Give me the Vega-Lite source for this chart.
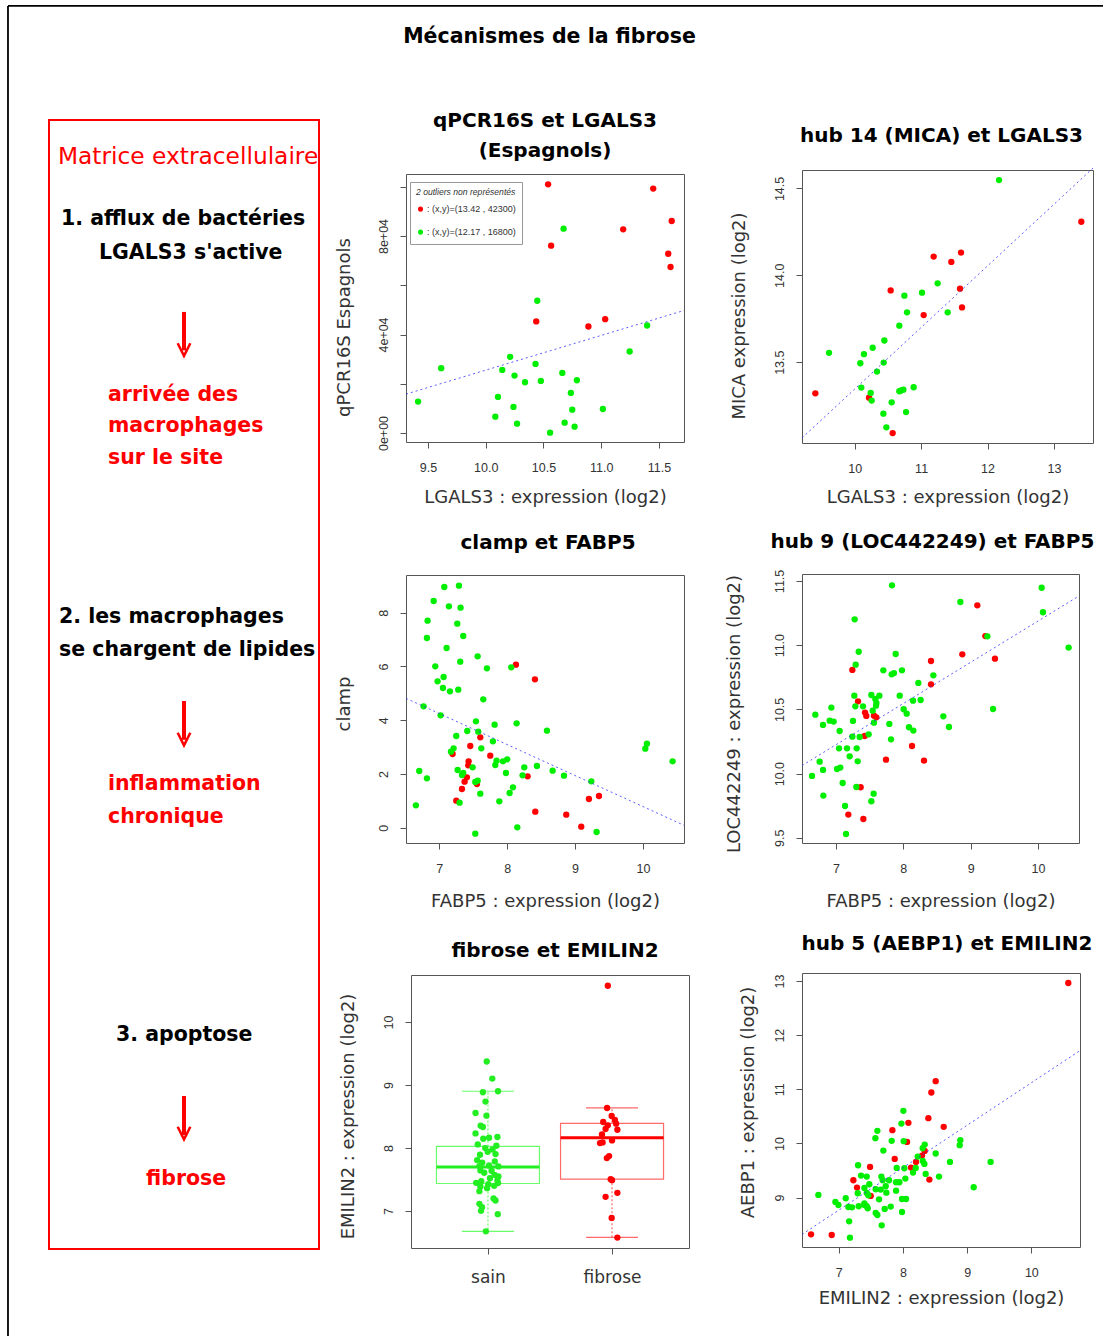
{
"$schema": "https://vega.github.io/schema/vega-lite/v6.json",
"background": "white",
"padding": {"left": 6, "top": 4, "right": 0, "bottom": 0},
"autosize": {"type": "pad"},
"title": {"text": "Mécanismes de la fibrose", "offset": -43, "dx": -6, "fontSize": 20.5},
"bounds": "flush",
"spacing": 0,
"resolve": {"scale": {"color": "independent", "stroke": "independent", "fill": "independent"}, "legend": {"color": "independent"}},
"datasets": {
"cadre": [{"x": -15.19, "y": -10.1, "x2": -15.19, "y2": 107.71}, {"x": -15.19, "y": -10.1, "x2": 390.37, "y2": -10.1}],
"fleches": [{"x": 50, "y": 17.0, "y2": 20.4}, {"x": 50, "y": 51.46, "y2": 54.9}, {"x": 50, "y": 86.45, "y2": 89.9}],
"pointes": [{"x": 50, "y": 20.33}, {"x": 50, "y": 54.83}, {"x": 50, "y": 89.73}],
"texte": [
{"t": "Matrice extracellulaire", "x": 3.33, "y": 3.92, "k": "titre"},
{"t": "1. afflux de bactéries", "x": 4.44, "y": 9.33, "k": "etape"},
{"t": "LGALS3 s'active", "x": 18.5, "y": 12.29, "k": "etape"},
{"t": "arrivée des", "x": 21.85, "y": 24.89, "k": "effet"},
{"t": "macrophages", "x": 21.85, "y": 27.64, "k": "effet"},
{"t": "sur le site", "x": 21.85, "y": 30.5, "k": "effet"},
{"t": "2. les macrophages", "x": 3.7, "y": 44.55, "k": "etape"},
{"t": "se chargent de lipides", "x": 3.7, "y": 47.48, "k": "etape"},
{"t": "inflammation", "x": 21.85, "y": 59.34, "k": "effet"},
{"t": "chronique", "x": 21.85, "y": 62.27, "k": "effet"},
{"t": "3. apoptose", "x": 24.81, "y": 81.58, "k": "etape"},
{"t": "fibrose", "x": 35.93, "y": 94.33, "k": "effet"}
],
"p1": [
{"x":10.54,"y":101000,"g":"fibrose"},{"x":11.45,"y":99250,"g":"fibrose"},{"x":11.61,"y":86100,"g":"fibrose"},{"x":11.19,"y":82700,"g":"fibrose"},{"x":10.566,"y":76070,"g":"fibrose"},{"x":11.58,"y":72800,"g":"fibrose"},{"x":11.6,"y":67400,"g":"fibrose"},{"x":10.437,"y":45300,"g":"fibrose"},{"x":11.034,"y":46240,"g":"fibrose"},{"x":10.889,"y":43250,"g":"fibrose"},
{"x":10.674,"y":82980,"g":"sain"},{"x":10.446,"y":53700,"g":"sain"},{"x":11.397,"y":43660,"g":"sain"},{"x":11.246,"y":33090,"g":"sain"},{"x":10.211,"y":30920,"g":"sain"},{"x":10.431,"y":28070,"g":"sain"},{"x":9.614,"y":26310,"g":"sain"},{"x":10.143,"y":25630,"g":"sain"},{"x":10.663,"y":24410,"g":"sain"},{"x":10.249,"y":23320,"g":"sain"},{"x":10.34,"y":20610,"g":"sain"},{"x":10.477,"y":21150,"g":"sain"},{"x":10.789,"y":21420,"g":"sain"},{"x":10.737,"y":16270,"g":"sain"},{"x":9.414,"y":12750,"g":"sain"},{"x":10.106,"y":14640,"g":"sain"},{"x":10.24,"y":10580,"g":"sain"},{"x":10.749,"y":9490,"g":"sain"},{"x":11.014,"y":9760,"g":"sain"},{"x":10.083,"y":6640,"g":"sain"},{"x":10.271,"y":3800,"g":"sain"},{"x":10.683,"y":4200,"g":"sain"},{"x":10.769,"y":2580,"g":"sain"},{"x":10.557,"y":140,"g":"sain"}
],
"p1d": [{"x": 9.31, "y": 15800}, {"x": 11.716, "y": 49730}],
"p2": [
{"x":13.412,"y":14.308,"g":"fibrose"},{"x":11.189,"y":14.108,"g":"fibrose"},{"x":11.601,"y":14.131,"g":"fibrose"},{"x":11.455,"y":14.077,"g":"fibrose"},{"x":11.586,"y":13.923,"g":"fibrose"},{"x":10.542,"y":13.913,"g":"fibrose"},{"x":11.616,"y":13.815,"g":"fibrose"},{"x":11.039,"y":13.771,"g":"fibrose"},{"x":9.408,"y":13.321,"g":"fibrose"},{"x":10.216,"y":13.296,"g":"fibrose"},{"x":10.572,"y":13.092,"g":"fibrose"},
{"x":12.173,"y":14.548,"g":"sain"},{"x":11.249,"y":13.954,"g":"sain"},{"x":11.014,"y":13.9,"g":"sain"},{"x":10.748,"y":13.883,"g":"sain"},{"x":10.788,"y":13.787,"g":"sain"},{"x":11.4,"y":13.787,"g":"sain"},{"x":10.672,"y":13.71,"g":"sain"},{"x":10.447,"y":13.625,"g":"sain"},{"x":9.614,"y":13.554,"g":"sain"},{"x":10.271,"y":13.583,"g":"sain"},{"x":10.14,"y":13.546,"g":"sain"},{"x":10.085,"y":13.494,"g":"sain"},{"x":10.437,"y":13.498,"g":"sain"},{"x":10.336,"y":13.446,"g":"sain"},{"x":10.1,"y":13.354,"g":"sain"},{"x":10.241,"y":13.323,"g":"sain"},{"x":10.256,"y":13.279,"g":"sain"},{"x":10.672,"y":13.333,"g":"sain"},{"x":10.733,"y":13.342,"g":"sain"},{"x":10.888,"y":13.356,"g":"sain"},{"x":10.557,"y":13.269,"g":"sain"},{"x":10.432,"y":13.204,"g":"sain"},{"x":10.773,"y":13.213,"g":"sain"},{"x":10.477,"y":13.125,"g":"sain"},{"x":10.7,"y":13.337,"g":"sain"}
],
"p2d": [{"x": 9.207, "y": 13.064}, {"x": 13.588, "y": 14.617}],
"p3": [
{"x":8.129,"y":6.067,"g":"fibrose"},{"x":8.409,"y":5.521,"g":"fibrose"},{"x":7.604,"y":3.362,"g":"fibrose"},{"x":7.457,"y":3.04,"g":"fibrose"},{"x":7.751,"y":2.68,"g":"fibrose"},{"x":7.196,"y":2.742,"g":"fibrose"},{"x":7.432,"y":2.469,"g":"fibrose"},{"x":7.427,"y":2.32,"g":"fibrose"},{"x":7.407,"y":1.873,"g":"fibrose"},{"x":7.373,"y":1.712,"g":"fibrose"},{"x":7.334,"y":1.439,"g":"fibrose"},{"x":7.555,"y":1.625,"g":"fibrose"},{"x":7.25,"y":1.005,"g":"fibrose"},{"x":8.301,"y":1.911,"g":"fibrose"},{"x":8.414,"y":0.596,"g":"fibrose"},{"x":8.87,"y":0.484,"g":"fibrose"},{"x":9.091,"y":0.037,"g":"fibrose"},{"x":9.204,"y":1.067,"g":"fibrose"},{"x":9.352,"y":1.179,"g":"fibrose"},
{"x":7.074,"y":8.958,"g":"sain"},{"x":7.29,"y":9.007,"g":"sain"},{"x":6.917,"y":8.437,"g":"sain"},{"x":7.142,"y":8.238,"g":"sain"},{"x":7.314,"y":8.189,"g":"sain"},{"x":6.828,"y":7.705,"g":"sain"},{"x":7.265,"y":7.593,"g":"sain"},{"x":6.818,"y":7.06,"g":"sain"},{"x":7.353,"y":7.134,"g":"sain"},{"x":7.108,"y":6.687,"g":"sain"},{"x":7.565,"y":6.377,"g":"sain"},{"x":7.309,"y":6.179,"g":"sain"},{"x":6.941,"y":6.005,"g":"sain"},{"x":7.702,"y":5.931,"g":"sain"},{"x":8.06,"y":5.968,"g":"sain"},{"x":7.064,"y":5.608,"g":"sain"},{"x":6.975,"y":5.447,"g":"sain"},{"x":7.054,"y":5.199,"g":"sain"},{"x":7.157,"y":5.074,"g":"sain"},{"x":7.28,"y":5.136,"g":"sain"},{"x":7.648,"y":4.777,"g":"sain"},{"x":6.769,"y":4.516,"g":"sain"},{"x":7.02,"y":4.181,"g":"sain"},{"x":7.54,"y":3.958,"g":"sain"},{"x":7.815,"y":3.834,"g":"sain"},{"x":8.139,"y":3.883,"g":"sain"},{"x":7.412,"y":3.598,"g":"sain"},{"x":7.574,"y":3.573,"g":"sain"},{"x":8.586,"y":3.61,"g":"sain"},{"x":7.25,"y":3.412,"g":"sain"},{"x":7.79,"y":3.213,"g":"sain"},{"x":7.619,"y":2.953,"g":"sain"},{"x":7.211,"y":2.953,"g":"sain"},{"x":7.172,"y":2.829,"g":"sain"},{"x":10.034,"y":2.94,"g":"sain"},{"x":10.058,"y":3.127,"g":"sain"},{"x":10.436,"y":2.469,"g":"sain"},{"x":7.844,"y":2.494,"g":"sain"},{"x":7.825,"y":2.333,"g":"sain"},{"x":8.001,"y":2.543,"g":"sain"},{"x":7.938,"y":2.469,"g":"sain"},{"x":8.252,"y":2.246,"g":"sain"},{"x":8.438,"y":2.295,"g":"sain"},{"x":7.491,"y":2.246,"g":"sain"},{"x":7.27,"y":2.146,"g":"sain"},{"x":7.353,"y":2.035,"g":"sain"},{"x":7.334,"y":1.96,"g":"sain"},{"x":7.982,"y":2.035,"g":"sain"},{"x":8.669,"y":2.122,"g":"sain"},{"x":6.705,"y":2.109,"g":"sain"},{"x":8.227,"y":1.948,"g":"sain"},{"x":8.836,"y":1.935,"g":"sain"},{"x":9.239,"y":1.725,"g":"sain"},{"x":6.818,"y":1.836,"g":"sain"},{"x":7.53,"y":1.7,"g":"sain"},{"x":7.565,"y":1.749,"g":"sain"},{"x":8.085,"y":1.501,"g":"sain"},{"x":8.036,"y":1.29,"g":"sain"},{"x":7.604,"y":1.266,"g":"sain"},{"x":7.884,"y":0.98,"g":"sain"},{"x":7.299,"y":0.93,"g":"sain"},{"x":6.656,"y":0.831,"g":"sain"},{"x":8.149,"y":0.012,"g":"sain"},{"x":7.53,"y":-0.223,"g":"sain"},{"x":9.317,"y":-0.161,"g":"sain"}
],
"p3d": [{"x": 6.51, "y": 4.813}, {"x": 10.604, "y": 0.088}],
"p4": [
{"x":9.099,"y":11.31,"g":"fibrose"},{"x":9.218,"y":11.071,"g":"fibrose"},{"x":8.876,"y":10.929,"g":"fibrose"},{"x":9.361,"y":10.895,"g":"fibrose"},{"x":8.411,"y":10.877,"g":"fibrose"},{"x":8.411,"y":10.695,"g":"fibrose"},{"x":7.243,"y":10.807,"g":"fibrose"},{"x":7.327,"y":10.563,"g":"fibrose"},{"x":7.431,"y":10.475,"g":"fibrose"},{"x":7.45,"y":10.449,"g":"fibrose"},{"x":7.564,"y":10.451,"g":"fibrose"},{"x":7.599,"y":10.438,"g":"fibrose"},{"x":7.426,"y":10.293,"g":"fibrose"},{"x":8.129,"y":10.215,"g":"fibrose"},{"x":7.743,"y":10.109,"g":"fibrose"},{"x":8.307,"y":10.101,"g":"fibrose"},{"x":7.366,"y":9.894,"g":"fibrose"},{"x":7.183,"y":9.681,"g":"fibrose"},{"x":7.406,"y":9.647,"g":"fibrose"},
{"x":7.832,"y":11.466,"g":"sain"},{"x":10.054,"y":11.447,"g":"sain"},{"x":8.847,"y":11.336,"g":"sain"},{"x":10.074,"y":11.256,"g":"sain"},{"x":7.277,"y":11.201,"g":"sain"},{"x":9.248,"y":11.069,"g":"sain"},{"x":10.455,"y":10.981,"g":"sain"},{"x":7.337,"y":10.949,"g":"sain"},{"x":7.886,"y":10.931,"g":"sain"},{"x":7.292,"y":10.848,"g":"sain"},{"x":7.703,"y":10.804,"g":"sain"},{"x":7.98,"y":10.804,"g":"sain"},{"x":7.827,"y":10.773,"g":"sain"},{"x":7.861,"y":10.783,"g":"sain"},{"x":8.446,"y":10.765,"g":"sain"},{"x":8.223,"y":10.706,"g":"sain"},{"x":7.272,"y":10.607,"g":"sain"},{"x":7.525,"y":10.612,"g":"sain"},{"x":7.644,"y":10.607,"g":"sain"},{"x":7.946,"y":10.607,"g":"sain"},{"x":7.584,"y":10.581,"g":"sain"},{"x":8.144,"y":10.568,"g":"sain"},{"x":8.257,"y":10.573,"g":"sain"},{"x":7.287,"y":10.524,"g":"sain"},{"x":7.401,"y":10.524,"g":"sain"},{"x":7.594,"y":10.529,"g":"sain"},{"x":6.931,"y":10.514,"g":"sain"},{"x":8.005,"y":10.501,"g":"sain"},{"x":7.545,"y":10.49,"g":"sain"},{"x":8.05,"y":10.467,"g":"sain"},{"x":6.693,"y":10.459,"g":"sain"},{"x":8.594,"y":10.446,"g":"sain"},{"x":6.906,"y":10.412,"g":"sain"},{"x":6.965,"y":10.405,"g":"sain"},{"x":7.252,"y":10.41,"g":"sain"},{"x":7.564,"y":10.397,"g":"sain"},{"x":7.792,"y":10.387,"g":"sain"},{"x":6.807,"y":10.379,"g":"sain"},{"x":8.678,"y":10.363,"g":"sain"},{"x":8.084,"y":10.361,"g":"sain"},{"x":8.149,"y":10.335,"g":"sain"},{"x":7.054,"y":10.332,"g":"sain"},{"x":7.485,"y":10.306,"g":"sain"},{"x":7.351,"y":10.285,"g":"sain"},{"x":7.243,"y":10.288,"g":"sain"},{"x":7.817,"y":10.267,"g":"sain"},{"x":7.045,"y":10.197,"g":"sain"},{"x":7.163,"y":10.197,"g":"sain"},{"x":7.307,"y":10.197,"g":"sain"},{"x":7.203,"y":10.135,"g":"sain"},{"x":7.322,"y":10.096,"g":"sain"},{"x":6.757,"y":10.093,"g":"sain"},{"x":7.015,"y":10.036,"g":"sain"},{"x":7.064,"y":10.047,"g":"sain"},{"x":6.807,"y":10.029,"g":"sain"},{"x":6.644,"y":9.982,"g":"sain"},{"x":9.332,"y":10.503,"g":"sain"},{"x":7.099,"y":9.927,"g":"sain"},{"x":7.302,"y":9.896,"g":"sain"},{"x":7.559,"y":9.844,"g":"sain"},{"x":6.812,"y":9.829,"g":"sain"},{"x":7.525,"y":9.785,"g":"sain"},{"x":7.134,"y":9.748,"g":"sain"},{"x":7.149,"y":9.53,"g":"sain"},{"x":7.6,"y":10.55,"g":"sain"}
],
"p4d": [{"x": 6.495, "y": 10.063}, {"x": 10.609, "y": 11.383}],
"p5pts": [
{"x":0.99,"y":9.373,"g":"sain"},{"x":1.035,"y":9.102,"g":"sain"},{"x":0.959,"y":8.885,"g":"sain"},{"x":1.081,"y":8.901,"g":"sain"},{"x":0.98,"y":8.737,"g":"sain"},{"x":0.9,"y":8.556,"g":"sain"},{"x":0.988,"y":8.514,"g":"sain"},{"x":0.941,"y":8.355,"g":"sain"},{"x":0.959,"y":8.334,"g":"sain"},{"x":0.9,"y":8.233,"g":"sain"},{"x":0.962,"y":8.148,"g":"sain"},{"x":1.076,"y":8.175,"g":"sain"},{"x":1.009,"y":8.164,"g":"sain"},{"x":0.918,"y":8.058,"g":"sain"},{"x":1.068,"y":8.037,"g":"sain"},{"x":0.978,"y":8.0,"g":"sain"},{"x":1.037,"y":7.979,"g":"sain"},{"x":0.998,"y":7.942,"g":"sain"},{"x":1.061,"y":7.905,"g":"sain"},{"x":0.936,"y":7.894,"g":"sain"},{"x":1.055,"y":7.788,"g":"sain"},{"x":0.913,"y":7.809,"g":"sain"},{"x":0.954,"y":7.767,"g":"sain"},{"x":0.931,"y":7.714,"g":"sain"},{"x":1.009,"y":7.724,"g":"sain"},{"x":1.084,"y":7.709,"g":"sain"},{"x":0.939,"y":7.645,"g":"sain"},{"x":1.029,"y":7.64,"g":"sain"},{"x":0.97,"y":7.608,"g":"sain"},{"x":1.053,"y":7.576,"g":"sain"},{"x":1.084,"y":7.55,"g":"sain"},{"x":1.016,"y":7.523,"g":"sain"},{"x":1.076,"y":7.486,"g":"sain"},{"x":0.905,"y":7.449,"g":"sain"},{"x":0.946,"y":7.475,"g":"sain"},{"x":1.081,"y":7.444,"g":"sain"},{"x":1.003,"y":7.428,"g":"sain"},{"x":1.05,"y":7.401,"g":"sain"},{"x":0.939,"y":7.391,"g":"sain"},{"x":0.993,"y":7.364,"g":"sain"},{"x":0.931,"y":7.316,"g":"sain"},{"x":1.045,"y":7.2,"g":"sain"},{"x":1.061,"y":7.168,"g":"sain"},{"x":0.931,"y":7.115,"g":"sain"},{"x":0.952,"y":7.062,"g":"sain"},{"x":0.944,"y":7.004,"g":"sain"},{"x":1.079,"y":6.951,"g":"sain"},{"x":0.983,"y":6.68,"g":"sain"},
{"x":1.966,"y":10.575,"g":"fibrose"},{"x":1.96,"y":8.636,"g":"fibrose"},{"x":1.997,"y":8.509,"g":"fibrose"},{"x":1.929,"y":8.413,"g":"fibrose"},{"x":2.023,"y":8.445,"g":"fibrose"},{"x":2.033,"y":8.387,"g":"fibrose"},{"x":1.966,"y":8.36,"g":"fibrose"},{"x":1.948,"y":8.302,"g":"fibrose"},{"x":2.043,"y":8.291,"g":"fibrose"},{"x":1.919,"y":8.217,"g":"fibrose"},{"x":2.0,"y":8.122,"g":"fibrose"},{"x":1.903,"y":8.079,"g":"fibrose"},{"x":1.924,"y":8.09,"g":"fibrose"},{"x":1.958,"y":7.841,"g":"fibrose"},{"x":1.976,"y":7.873,"g":"fibrose"},{"x":1.989,"y":7.507,"g":"fibrose"},{"x":2.0,"y":7.491,"g":"fibrose"},{"x":1.948,"y":7.226,"g":"fibrose"},{"x":2.043,"y":7.29,"g":"fibrose"},{"x":1.997,"y":6.892,"g":"fibrose"},{"x":2.043,"y":6.58,"g":"fibrose"}
],
"p5boite": [{"g": "sain", "x": 1, "y": 7.438, "y2": 8.026}, {"g": "fibrose", "x": 2, "y": 7.507, "y2": 8.392}],
"p5moust": [{"g": "sain", "x": 1, "y": 8.026, "y2": 8.901}, {"g": "sain", "x": 1, "y": 7.438, "y2": 6.68}, {"g": "fibrose", "x": 2, "y": 8.392, "y2": 8.636}, {"g": "fibrose", "x": 2, "y": 7.507, "y2": 6.585}],
"p5cap": [{"g": "sain", "x": 1, "y": 8.901}, {"g": "sain", "x": 1, "y": 6.68}, {"g": "fibrose", "x": 2, "y": 8.636}, {"g": "fibrose", "x": 2, "y": 6.585}],
"p5med": [{"g": "sain", "x": 1, "y": 7.698}, {"g": "fibrose", "x": 2, "y": 8.164}],
"p6": [
{"x":10.576,"y":12.963,"g":"fibrose"},{"x":8.51,"y":11.151,"g":"fibrose"},{"x":8.443,"y":10.941,"g":"fibrose"},{"x":8.396,"y":10.467,"g":"fibrose"},{"x":8.085,"y":10.381,"g":"fibrose"},{"x":8.635,"y":10.307,"g":"fibrose"},{"x":7.836,"y":10.245,"g":"fibrose"},{"x":8.064,"y":10.029,"g":"fibrose"},{"x":7.872,"y":9.715,"g":"fibrose"},{"x":8.339,"y":9.863,"g":"fibrose"},{"x":8.297,"y":9.777,"g":"fibrose"},{"x":8.204,"y":9.659,"g":"fibrose"},{"x":8.126,"y":9.555,"g":"fibrose"},{"x":7.488,"y":9.567,"g":"fibrose"},{"x":8.412,"y":9.333,"g":"fibrose"},{"x":7.228,"y":9.32,"g":"fibrose"},{"x":7.285,"y":9.185,"g":"fibrose"},{"x":7.498,"y":9.031,"g":"fibrose"},{"x":6.569,"y":8.322,"g":"fibrose"},{"x":6.891,"y":8.31,"g":"fibrose"},
{"x":8.007,"y":10.602,"g":"sain"},{"x":7.976,"y":10.368,"g":"sain"},{"x":7.602,"y":10.233,"g":"sain"},{"x":7.571,"y":10.097,"g":"sain"},{"x":7.825,"y":10.048,"g":"sain"},{"x":8.012,"y":10.042,"g":"sain"},{"x":8.339,"y":9.98,"g":"sain"},{"x":8.894,"y":10.06,"g":"sain"},{"x":8.884,"y":9.968,"g":"sain"},{"x":7.695,"y":9.869,"g":"sain"},{"x":8.308,"y":9.912,"g":"sain"},{"x":8.51,"y":9.814,"g":"sain"},{"x":9.366,"y":9.659,"g":"sain"},{"x":8.733,"y":9.659,"g":"sain"},{"x":8.23,"y":9.758,"g":"sain"},{"x":8.334,"y":9.622,"g":"sain"},{"x":7.301,"y":9.598,"g":"sain"},{"x":8.199,"y":9.549,"g":"sain"},{"x":8.022,"y":9.542,"g":"sain"},{"x":7.903,"y":9.549,"g":"sain"},{"x":8.157,"y":9.462,"g":"sain"},{"x":7.348,"y":9.407,"g":"sain"},{"x":7.436,"y":9.388,"g":"sain"},{"x":7.664,"y":9.388,"g":"sain"},{"x":8.354,"y":9.438,"g":"sain"},{"x":8.562,"y":9.388,"g":"sain"},{"x":7.685,"y":9.32,"g":"sain"},{"x":7.784,"y":9.32,"g":"sain"},{"x":8.038,"y":9.351,"g":"sain"},{"x":7.893,"y":9.284,"g":"sain"},{"x":7.945,"y":9.284,"g":"sain"},{"x":7.4,"y":9.179,"g":"sain"},{"x":7.576,"y":9.154,"g":"sain"},{"x":7.654,"y":9.148,"g":"sain"},{"x":7.732,"y":9.21,"g":"sain"},{"x":7.742,"y":9.092,"g":"sain"},{"x":7.893,"y":9.129,"g":"sain"},{"x":7.436,"y":9.086,"g":"sain"},{"x":7.462,"y":9.043,"g":"sain"},{"x":9.102,"y":9.191,"g":"sain"},{"x":6.683,"y":9.049,"g":"sain"},{"x":7.109,"y":8.988,"g":"sain"},{"x":7.628,"y":8.969,"g":"sain"},{"x":7.986,"y":8.975,"g":"sain"},{"x":8.048,"y":8.975,"g":"sain"},{"x":6.948,"y":8.92,"g":"sain"},{"x":6.995,"y":8.864,"g":"sain"},{"x":7.15,"y":8.827,"g":"sain"},{"x":7.207,"y":8.821,"g":"sain"},{"x":7.311,"y":8.84,"g":"sain"},{"x":7.4,"y":8.864,"g":"sain"},{"x":7.436,"y":8.84,"g":"sain"},{"x":7.452,"y":8.803,"g":"sain"},{"x":7.81,"y":8.834,"g":"sain"},{"x":7.716,"y":8.79,"g":"sain"},{"x":7.576,"y":8.716,"g":"sain"},{"x":7.602,"y":8.679,"g":"sain"},{"x":7.986,"y":8.735,"g":"sain"},{"x":7.162,"y":8.562,"g":"sain"},{"x":7.669,"y":8.488,"g":"sain"},{"x":7.175,"y":8.26,"g":"sain"},{"x":7.4,"y":8.895,"g":"sain"},{"x":7.296,"y":9.08,"g":"sain"},{"x":7.477,"y":9.247,"g":"sain"},{"x":8.308,"y":9.678,"g":"sain"}
],
"p6d": [{"x": 6.428, "y": 8.32}, {"x": 10.758, "y": 11.715}]
},
"hconcat": [
{
"width": 270, "height": 1129,
"view": {"stroke": "#ff0000", "strokeWidth": 2},
"encoding": {
"x": {"field": "x", "type": "quantitative", "scale": {"domain": [0, 100], "nice": false, "zero": false}, "axis": null},
"y": {"field": "y", "type": "quantitative", "scale": {"domain": [0, 100], "reverse": true, "nice": false, "zero": false}, "axis": null}
},
"layer": [
{"data": {"name": "cadre"}, "mark": {"type": "rule", "color": "#000000", "strokeWidth": 1.8}, "encoding": {"x2": {"field": "x2"}, "y2": {"field": "y2"}}},
{"data": {"name": "fleches"}, "mark": {"type": "rule", "color": "#ff0000", "strokeWidth": 4}, "encoding": {"y2": {"field": "y2"}}},
{"data": {"name": "pointes"}, "mark": {"type": "point", "shape": "M-1,-1L0,1L1,-1", "filled": false, "color": "#ff0000", "strokeWidth": 2.5, "size": 160, "opacity": 1}},
{"data": {"name": "texte"}, "transform": [{"filter": "datum.k == 'titre'"}], "mark": {"type": "text", "align": "left", "baseline": "alphabetic", "font": "DejaVu Sans", "fontSize": 23.3, "fontWeight": "normal", "color": "#ff0000"}, "encoding": {"text": {"field": "t"}}},
{"data": {"name": "texte"}, "transform": [{"filter": "datum.k != 'titre'"}], "mark": {"type": "text", "align": "left", "baseline": "alphabetic", "font": "DejaVu Sans", "fontSize": 20.5, "fontWeight": "bold"}, "encoding": {"text": {"field": "t"}, "color": {"field": "k", "type": "nominal", "scale": {"domain": ["etape", "effet"], "range": ["#000000", "#ff0000"]}, "legend": null}}}
]
},
{"width": 87, "height": 1, "data": {"values": [{}]}, "mark": {"type": "point", "opacity": 0}, "view": {"stroke": null}},
{
"bounds": "flush", "spacing": 0,
"resolve": {"scale": {"color": "independent", "stroke": "independent", "fill": "independent"}, "legend": {"color": "independent"}},
"vconcat": [
{"width": 10, "height": 54, "data": {"values": [{}]}, "mark": {"type": "point", "opacity": 0}, "view": {"stroke": null}},
{
"width": 278, "height": 268,
"title": {"text": ["qPCR16S et LGALS3", "(Espagnols)"], "offset": 13},
"encoding": {
"x": {"field": "x", "type": "quantitative", "scale": {"domain": [9.3095, 11.7165], "nice": false, "zero": false}, "axis": {"title": "LGALS3 : expression (log2)", "values": [9.5, 10, 10.5, 11, 11.5], "format": ".1f", "titlePadding": 15}},
"y": {"field": "y", "type": "quantitative", "scale": {"domain": [-3655, 105178], "nice": false, "zero": false}, "axis": {"title": "qPCR16S Espagnols", "values": [0, 20000, 40000, 60000, 80000, 100000], "labelExpr": "datum.value == 0 ? '0e+00' : datum.value == 40000 ? '4e+04' : datum.value == 80000 ? '8e+04' : ''", "titlePadding": 24, "titleY": 153}}
},
"layer": [
{"data": {"name": "p1"}, "mark": {"type": "circle", "size": 40, "opacity": 1},
"encoding": {"color": {"field": "g", "type": "nominal", "scale": {"domain": ["fibrose", "sain"], "range": ["#ff0000", "#00ee00"]},
"legend": {"orient": "none", "legendX": 4, "legendY": 8, "title": "2 outliers non représentés", "titleFont": "Liberation Sans", "titleFontStyle": "italic", "titleFontWeight": "normal", "titleFontSize": 8.6, "titleColor": "#333333", "titlePadding": 8, "labelFont": "Liberation Sans", "labelFontSize": 9, "labelColor": "#333333", "labelOffset": 2, "labelExpr": "datum.label == 'fibrose' ? ': (x,y)=(13.42 , 42300)' : ': (x,y)=(12.17 , 16800)'", "symbolType": "circle", "symbolSize": 26, "symbolStrokeWidth": 0, "strokeColor": "#999999", "fillColor": "#ffffff", "padding": 6, "rowPadding": 13, "cornerRadius": 0}}}},
{"data": {"name": "p1d"}, "mark": {"type": "line", "color": "#3333ff", "strokeDash": [2, 3], "strokeWidth": 1, "opacity": 0.8}}
]
},
{"width": 10, "height": 133, "data": {"values": [{}]}, "mark": {"type": "point", "opacity": 0}, "view": {"stroke": null}},
{
"width": 278, "height": 268,
"title": {"text": "clamp et FABP5", "offset": 22.5, "dx": 3},
"encoding": {
"x": {"field": "x", "type": "quantitative", "scale": {"domain": [6.51, 10.604], "nice": false, "zero": false}, "axis": {"title": "FABP5 : expression (log2)", "values": [7, 8, 9, 10], "format": "d", "titlePadding": 18}},
"y": {"field": "y", "type": "quantitative", "scale": {"domain": [-0.571, 9.404], "nice": false, "zero": false}, "axis": {"title": "clamp", "values": [0, 2, 4, 6, 8], "format": "d", "titlePadding": 24, "titleY": 128.5}}
},
"layer": [
{"data": {"name": "p3"}, "mark": {"type": "circle", "size": 40, "opacity": 1}, "encoding": {"color": {"field": "g", "type": "nominal", "scale": {"domain": ["fibrose", "sain"], "range": ["#ff0000", "#00ee00"]}, "legend": null}}},
{"data": {"name": "p3d"}, "mark": {"type": "line", "color": "#3333ff", "strokeDash": [2, 3], "strokeWidth": 1, "opacity": 0.8}}
]
},
{"width": 10, "height": 132, "data": {"values": [{}]}, "mark": {"type": "point", "opacity": 0}, "view": {"stroke": null}},
{
"bounds": "flush", "spacing": 0,
"resolve": {"scale": {"color": "independent", "stroke": "independent", "fill": "independent"}, "legend": {"color": "independent"}},
"hconcat": [
{"width": 5, "height": 10, "data": {"values": [{}]}, "mark": {"type": "point", "opacity": 0}, "view": {"stroke": null}},
{
"width": 278, "height": 273,
"title": {"text": "fibrose et EMILIN2", "offset": 14.5, "dx": 5},
"encoding": {
"x": {"field": "x", "type": "quantitative", "scale": {"domain": [0.42, 2.58], "nice": false, "zero": false}, "axis": {"title": null, "values": [1, 2], "labelExpr": "datum.value == 1 ? 'sain' : 'fibrose'", "labelFont": "DejaVu Sans", "labelFontSize": 17, "labelPadding": 15}},
"y": {"field": "y", "type": "quantitative", "scale": {"domain": [6.415, 10.745], "nice": false, "zero": false}, "axis": {"title": "EMILIN2 :  expression (log2)", "values": [7, 8, 9, 10], "format": "d", "titlePadding": 25, "titleY": 141}}
},
"layer": [
{"data": {"name": "p5boite"}, "mark": {"type": "bar", "width": 103, "fillOpacity": 0, "strokeWidth": 1.2}, "encoding": {"y2": {"field": "y2"}, "stroke": {"field": "g", "type": "nominal", "scale": {"domain": ["fibrose", "sain"], "range": ["#ff6a6a", "#6aff6a"]}, "legend": null}}},
{"data": {"name": "p5moust"}, "mark": {"type": "rule", "strokeDash": [2, 2], "strokeWidth": 1.2}, "encoding": {"y2": {"field": "y2"}, "stroke": {"field": "g", "type": "nominal", "scale": {"domain": ["fibrose", "sain"], "range": ["#ff6a6a", "#6aff6a"]}, "legend": null}}},
{"data": {"name": "p5cap"}, "mark": {"type": "tick", "orient": "horizontal", "size": 52, "thickness": 1.2, "opacity": 1}, "encoding": {"fill": {"field": "g", "type": "nominal", "scale": {"domain": ["fibrose", "sain"], "range": ["#ff6a6a", "#6aff6a"]}, "legend": null}}},
{"data": {"name": "p5med"}, "mark": {"type": "tick", "orient": "horizontal", "size": 103, "thickness": 3, "opacity": 1}, "encoding": {"color": {"field": "g", "type": "nominal", "scale": {"domain": ["fibrose", "sain"], "range": ["#ff0000", "#22ee22"]}, "legend": null}}},
{"data": {"name": "p5pts"}, "mark": {"type": "circle", "size": 40, "opacity": 1}, "encoding": {"color": {"field": "g", "type": "nominal", "scale": {"domain": ["fibrose", "sain"], "range": ["#ff0000", "#00ee00"]}, "legend": null}}}
]
}
]
}
]
},
{"width": 396, "height": 1, "data": {"values": [{}]}, "mark": {"type": "point", "opacity": 0}, "view": {"stroke": null}},
{
"bounds": "flush", "spacing": 0,
"resolve": {"scale": {"color": "independent", "stroke": "independent", "fill": "independent"}, "legend": {"color": "independent"}},
"vconcat": [
{"width": 10, "height": 50, "data": {"values": [{}]}, "mark": {"type": "point", "opacity": 0}, "view": {"stroke": null}},
{
"width": 291, "height": 273,
"title": {"text": "hub 14 (MICA) et LGALS3", "offset": 20.5, "dx": -6},
"encoding": {
"x": {"field": "x", "type": "quantitative", "scale": {"domain": [9.207, 13.588], "nice": false, "zero": false}, "axis": {"title": "LGALS3 :  expression (log2)", "values": [10, 11, 12, 13], "format": "d", "titlePadding": 14}},
"y": {"field": "y", "type": "quantitative", "scale": {"domain": [13.035, 14.606], "nice": false, "zero": false}, "axis": {"title": "MICA expression (log2)", "values": [13.5, 14, 14.5], "format": ".1f", "titlePadding": 25, "titleY": 145.5}}
},
"layer": [
{"data": {"name": "p2"}, "mark": {"type": "circle", "size": 40, "opacity": 1}, "encoding": {"color": {"field": "g", "type": "nominal", "scale": {"domain": ["fibrose", "sain"], "range": ["#ff0000", "#00ee00"]}, "legend": null}}},
{"data": {"name": "p2d"}, "mark": {"type": "line", "color": "#3333ff", "strokeDash": [2, 3], "strokeWidth": 1, "opacity": 0.8}}
]
},
{"width": 10, "height": 131, "data": {"values": [{}]}, "mark": {"type": "point", "opacity": 0}, "view": {"stroke": null}},
{
"width": 277, "height": 269,
"title": {"text": "hub 9 (LOC442249) et FABP5", "offset": 17, "dx": -8},
"encoding": {
"x": {"field": "x", "type": "quantitative", "scale": {"domain": [6.495, 10.609], "nice": false, "zero": false}, "axis": {"title": "FABP5 : expression (log2)", "values": [7, 8, 9, 10], "format": "d", "titlePadding": 18}},
"y": {"field": "y", "type": "quantitative", "scale": {"domain": [9.46, 11.554], "nice": false, "zero": false}, "axis": {"title": "LOC442249 : expression (log2)", "values": [9.5, 10, 10.5, 11, 11.5], "format": ".1f", "titlePadding": 30, "titleY": 139.5}}
},
"layer": [
{"data": {"name": "p4"}, "mark": {"type": "circle", "size": 40, "opacity": 1}, "encoding": {"color": {"field": "g", "type": "nominal", "scale": {"domain": ["fibrose", "sain"], "range": ["#ff0000", "#00ee00"]}, "legend": null}}},
{"data": {"name": "p4d"}, "mark": {"type": "line", "color": "#3333ff", "strokeDash": [2, 3], "strokeWidth": 1, "opacity": 0.8}}
]
},
{"width": 10, "height": 130, "data": {"values": [{}]}, "mark": {"type": "point", "opacity": 0}, "view": {"stroke": null}},
{
"width": 278, "height": 274,
"title": {"text": "hub 5 (AEBP1) et EMILIN2", "offset": 19.5, "dx": 6},
"encoding": {
"x": {"field": "x", "type": "quantitative", "scale": {"domain": [6.428, 10.758], "nice": false, "zero": false}, "axis": {"title": "EMILIN2 :  expression (log2)", "values": [7, 8, 9, 10], "format": "d", "titlePadding": 11}},
"y": {"field": "y", "type": "quantitative", "scale": {"domain": [8.088, 13.148], "nice": false, "zero": false}, "axis": {"title": "AEBP1 :  expression (log2)", "values": [9, 10, 11, 12, 13], "format": "d", "titlePadding": 16, "titleY": 129}}
},
"layer": [
{"data": {"name": "p6"}, "mark": {"type": "circle", "size": 40, "opacity": 1}, "encoding": {"color": {"field": "g", "type": "nominal", "scale": {"domain": ["fibrose", "sain"], "range": ["#ff0000", "#00ee00"]}, "legend": null}}},
{"data": {"name": "p6d"}, "mark": {"type": "line", "color": "#3333ff", "strokeDash": [2, 3], "strokeWidth": 1, "opacity": 0.8}}
]
}
]
}
],
"config": {
"view": {"stroke": "#555555", "strokeWidth": 1},
"font": "DejaVu Sans",
"axis": {"grid": false, "domain": false, "ticks": true, "tickSize": 6, "tickColor": "#555555", "tickWidth": 1, "labelFont": "Liberation Sans", "labelFontSize": 12.5, "labelColor": "#333333", "labelOverlap": false, "labelFlush": false, "titleFont": "DejaVu Sans", "titleFontSize": 18, "titleFontWeight": "normal", "titleColor": "#333333"},
"axisX": {"labelPadding": 13, "labelAngle": 0},
"axisY": {"labelPadding": 10, "labelAngle": 270, "labelAlign": "center", "labelBaseline": "bottom"},
"title": {"font": "DejaVu Sans", "fontSize": 20, "fontWeight": "bold", "color": "#000000", "anchor": "middle", "baseline": "alphabetic", "lineHeight": 30}
}
}
